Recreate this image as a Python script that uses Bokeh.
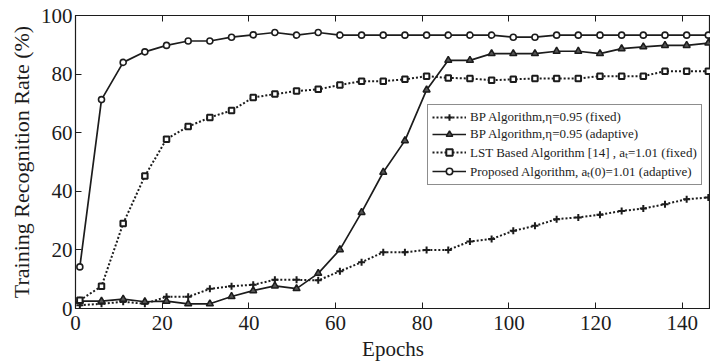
from bokeh.plotting import figure
from bokeh.models import LinearAxis, Legend, LegendItem, FixedTicker, Range1d
from bokeh.embed import file_html
from bokeh.resources import INLINE

epochs = [1, 6, 11, 16, 21, 26, 31, 36, 41, 46, 51, 56, 61, 66, 71,
          76, 81, 86, 91, 96, 101, 106, 111, 116, 121, 126, 131, 136, 141, 146]

bp_fixed = [1.1, 1.6, 2.3, 1.6, 4.0, 4.0, 6.7, 7.6, 8.1, 9.8, 9.8, 9.6, 12.7, 15.8, 19.2,
            19.2, 20.0, 20.0, 22.9, 23.7, 26.5, 28.2, 30.5, 31.1, 32.0, 33.3, 34.1, 35.6, 37.3, 37.9]
bp_adaptive = [2.5, 2.5, 3.2, 2.3, 2.5, 1.6, 1.6, 4.1, 6.1, 7.7, 6.8, 12.0, 20.1, 32.8, 46.5,
               57.3, 74.6, 84.7, 84.7, 87.0, 87.0, 87.0, 87.8, 87.8, 87.0, 88.7, 89.3, 89.8, 89.8, 90.6]
lst_fixed = [2.8, 7.6, 29.0, 45.2, 57.8, 62.1, 65.2, 67.6, 72.0, 73.2, 74.2, 74.8, 76.3, 77.6, 77.6,
             78.2, 79.3, 78.7, 78.5, 77.9, 78.2, 78.5, 78.5, 78.5, 79.3, 79.3, 79.3, 81.0, 81.0, 81.0]
proposed = [14.2, 71.3, 84.0, 87.6, 89.8, 91.3, 91.3, 92.6, 93.4, 94.2, 93.3, 94.2, 93.3, 93.3, 93.3,
            93.3, 93.3, 93.3, 93.3, 93.3, 92.6, 92.6, 93.3, 93.3, 93.3, 93.3, 93.3, 93.3, 93.3, 93.3]

x_ticks = [0, 20, 40, 60, 80, 100, 120, 140]
y_ticks = [0, 20, 40, 60, 80, 100]

labels = ["BP Algorithm,\u03b7=0.95 (fixed)",
          "BP Algorithm,\u03b7=0.95 (adaptive)",
          "LST Based Algorithm [14] , a\u209c=1.01 (fixed)",
          "Proposed Algorithm, a\u209c(0)=1.01 (adaptive)"]

FONT = "Liberation Serif"
INK = "#1c1c1c"

p = figure(width=710, height=363, x_range=Range1d(0, 146.5), y_range=Range1d(0, 100),
           output_backend="svg", toolbar_location=None,
           min_border_left=75, min_border_right=0, min_border_top=15, min_border_bottom=53)
p.grid.visible = False
p.outline_line_color = INK
p.outline_line_width = 1.2
p.background_fill_color = "white"
p.border_fill_color = "white"

p.xaxis.ticker = FixedTicker(ticks=x_ticks)
p.yaxis.ticker = FixedTicker(ticks=y_ticks)
for ax in (p.xaxis[0], p.yaxis[0]):
    ax.major_label_text_font = FONT
    ax.major_label_text_font_size = "21px"
    ax.major_label_text_color = INK
    ax.axis_label_text_font = FONT
    ax.axis_label_text_font_style = "normal"
    ax.axis_label_text_color = INK
    ax.axis_line_color = INK
    ax.minor_tick_line_color = None
    ax.major_tick_in = 6
    ax.major_tick_out = 0
    ax.major_tick_line_color = INK
p.xaxis.axis_label = "Epochs"
p.yaxis.axis_label = "Training Recognition Rate (%)"
p.xaxis.axis_label_text_font_size = "21px"
p.yaxis.axis_label_text_font_size = "22px"
p.xaxis.major_label_standoff = 7
p.xaxis.axis_label_standoff = 4
p.yaxis.major_label_standoff = 3
p.yaxis.axis_label_standoff = 4

top = LinearAxis(ticker=FixedTicker(ticks=x_ticks), major_tick_in=6, major_tick_out=0,
                 major_label_overrides={t: "" for t in x_ticks},
                 major_label_text_font_size="1px", major_label_standoff=0,
                 axis_line_color=INK, minor_tick_line_color=None, major_tick_line_color=INK)
p.add_layout(top, "above")

r1l = p.line(epochs, bp_fixed, line_color=INK, line_width=2, line_dash="2 2")
r1m = p.scatter(epochs, bp_fixed, marker="cross", size=7, line_color=INK, line_width=2)
r2l = p.line(epochs, bp_adaptive, line_color=INK, line_width=1.7)
r2m = p.scatter(epochs, bp_adaptive, marker="triangle", size=7, line_color=INK,
                fill_color="#555555", line_width=1.5)
r3l = p.line(epochs, lst_fixed, line_color=INK, line_width=2, line_dash="2 2")
r3m = p.scatter(epochs, lst_fixed, marker="square", size=5.5, line_color=INK,
                fill_color="white", line_width=2)
r4l = p.line(epochs, proposed, line_color=INK, line_width=1.7)
r4m = p.scatter(epochs, proposed, marker="circle", size=6, line_color=INK,
                fill_color="white", line_width=1.6)

legend = Legend(items=[LegendItem(label=labels[0], renderers=[r1l, r1m]),
                       LegendItem(label=labels[1], renderers=[r2l, r2m]),
                       LegendItem(label=labels[2], renderers=[r3l, r3m]),
                       LegendItem(label=labels[3], renderers=[r4l, r4m])],
                location=(352, 123))
legend.label_text_font = FONT
legend.label_text_font_size = "13px"
legend.label_text_color = INK
legend.glyph_width = 34
legend.label_standoff = 4
legend.padding = 4
legend.spacing = 1
legend.label_height = 16
legend.glyph_height = 16
legend.border_line_color = INK
legend.border_line_width = 1
legend.background_fill_alpha = 1
legend.margin = 0
p.add_layout(legend, "center")

open("out.html", "w").write(file_html(p, INLINE))
